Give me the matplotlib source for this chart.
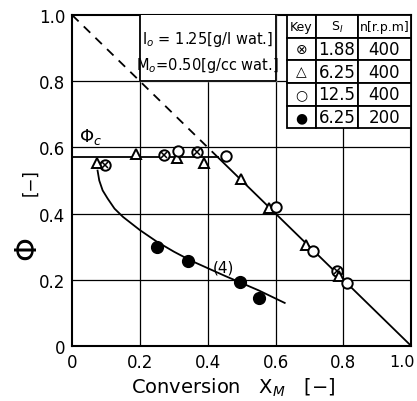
import matplotlib
matplotlib.use("Agg")
import matplotlib.pyplot as plt

# Data
x_cross = [0.097, 0.271, 0.367, 0.78]
y_cross = [0.548, 0.576, 0.585, 0.225]

x_tri = [0.073, 0.188, 0.308, 0.388, 0.497, 0.58, 0.69, 0.786]
y_tri = [0.553, 0.58, 0.567, 0.554, 0.504, 0.418, 0.304, 0.212]

x_open = [0.311, 0.455, 0.60, 0.709, 0.811]
y_open = [0.588, 0.575, 0.42, 0.288, 0.19]

x_fill = [0.25, 0.342, 0.496, 0.55]
y_fill = [0.30, 0.258, 0.194, 0.146]

# curve (4)
x_curve = [0.075, 0.08, 0.09, 0.105, 0.125, 0.15, 0.2, 0.25, 0.3, 0.35, 0.4, 0.45, 0.5, 0.55, 0.627]
y_curve = [0.53, 0.50, 0.47, 0.445, 0.415, 0.39, 0.35, 0.315, 0.285, 0.258, 0.235, 0.212, 0.19, 0.168, 0.13]

phi_c = 0.57
x_knee = 0.43

ticks = [0, 0.2, 0.4, 0.6, 0.8, 1.0]
tick_labels = ["0", "0.2", "0.4", "0.6", "0.8", "1.0"]

table_rows = [["Key", "S$_I$", "n[r.p.m]"],
              ["⊗", "1.88", "400"],
              ["△", "6.25", "400"],
              ["○", "12.5", "400"],
              ["●", "6.25", "200"]]

fig = plt.figure(figsize=(4.17, 4.02), dpi=100)
ax = fig.add_axes([0.173, 0.137, 0.813, 0.823])
ax.set_xlim(0, 1)
ax.set_ylim(0, 1)

for t in [0.2, 0.4, 0.6, 0.8]:
    ax.axvline(t, color="black", lw=0.9, zorder=1)
    ax.axhline(t, color="black", lw=0.9, zorder=1)

# lines
ax.plot([0, x_knee], [1, 1 - x_knee], color="black", lw=1.3, ls=(0, (5, 4)), zorder=2)
ax.plot([x_knee, 1.0], [1 - x_knee, 0], color="black", lw=1.3, zorder=2)
ax.plot([0, x_knee], [phi_c, phi_c], color="black", lw=1.3, zorder=2)
ax.plot(x_curve, y_curve, color="black", lw=1.3, zorder=2)

ms = 7.5
ax.plot(x_cross, y_cross, ls="none", marker="o", mfc="white", mec="black", mew=1.4, ms=ms, zorder=4)
ax.plot(x_cross, y_cross, ls="none", marker="x", mec="black", mew=1.1, ms=4, zorder=5)
ax.plot(x_tri, y_tri, ls="none", marker="^", mfc="white", mec="black", mew=1.4, ms=ms, zorder=4)
ax.plot(x_open, y_open, ls="none", marker="o", mfc="white", mec="black", mew=1.4, ms=ms, zorder=4)
ax.plot(x_fill, y_fill, ls="none", marker="o", mfc="black", mec="black", ms=ms + 1, zorder=4)

# text box
ax.fill_between([0.2, 0.6], 0.8, 1.0, color="white", zorder=3)
ax.plot([0.2, 0.2, 0.6, 0.6], [1.0, 0.8, 0.8, 1.0], color="black", lw=1.3, zorder=3)
ax.text(0.4, 0.93, "I$_o$ = 1.25[g/l wat.]", ha="center", va="center", fontsize=10.5, zorder=6)
ax.text(0.4, 0.85, "M$_o$=0.50[g/cc wat.]", ha="center", va="center", fontsize=10.5, zorder=6)

# key table
tab = ax.table(cellText=table_rows, bbox=[0.633, 0.658, 0.367, 0.342],
               colWidths=[0.087, 0.122, 0.158], cellLoc="center", zorder=7)
tab.auto_set_font_size(False)
for (r, c), cell in tab.get_celld().items():
    cell.set_linewidth(1.3)
    cell.set_edgecolor("black")
    cell.set_facecolor("white")
    if r == 0:
        cell.get_text().set_fontsize(9)
    else:
        cell.get_text().set_fontsize(12 if c > 0 else 10)

ax.text(0.053, 0.635, r"$\Phi_c$", ha="center", va="center", fontsize=13)
ax.text(0.445, 0.24, "(4)", ha="center", va="center", fontsize=11)

ax.set_xticks(ticks)
ax.set_xticklabels(tick_labels[:-1] + [""])
ax.set_yticks(ticks)
ax.set_yticklabels(tick_labels)
ax.tick_params(length=0, labelsize=12, pad=5)
ax.text(1.012, -0.023, tick_labels[-1], transform=ax.transAxes, ha="right", va="top", fontsize=11.5)
for s in ax.spines.values():
    s.set_linewidth(1.5)

fig.text(0.065, 0.383, "Φ", rotation=90, ha="center", va="center", fontsize=22)
fig.text(0.072, 0.545, "[−]", rotation=90, ha="center", va="center", fontsize=12)
fig.text(0.56, 0.035, "Conversion   X$_M$   [−]", ha="center", va="center", fontsize=14)

fig.savefig("out.png", dpi=100)
